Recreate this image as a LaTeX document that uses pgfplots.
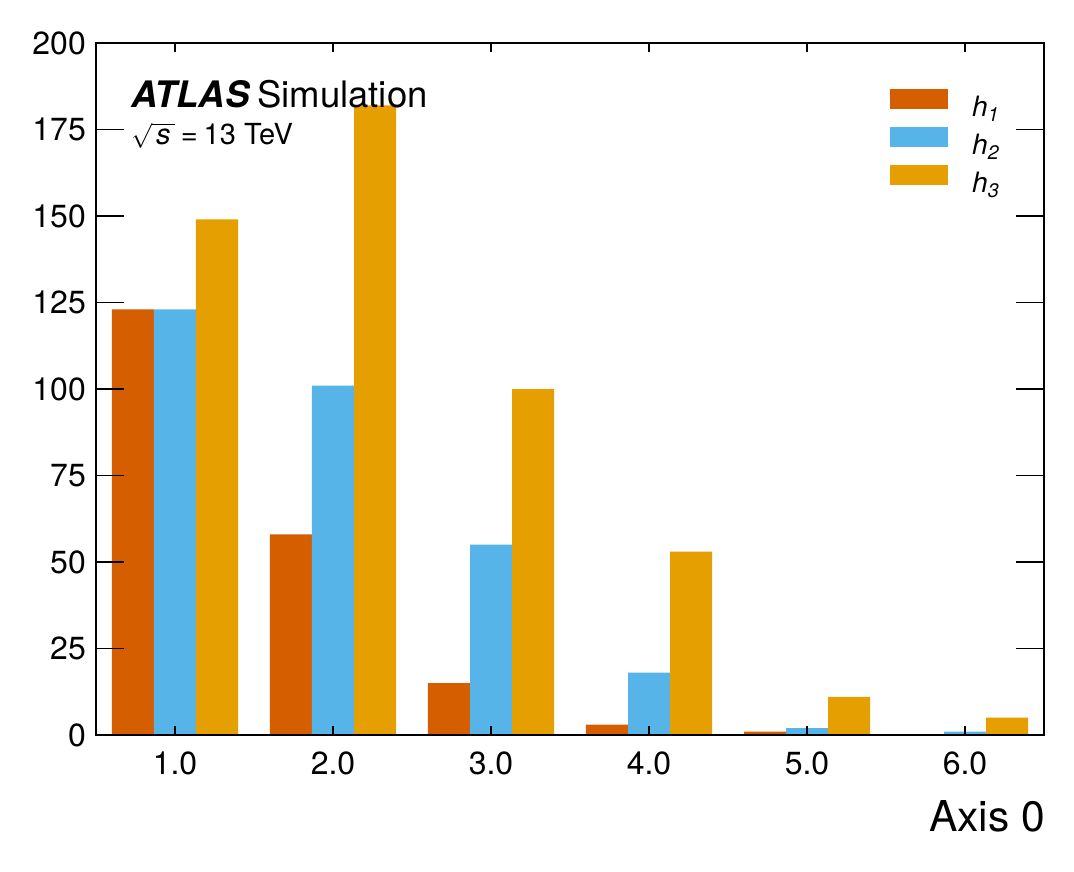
\documentclass[border=0pt]{standalone}
\usepackage{fontspec}
\setmainfont{TeX Gyre Heros}
\usepackage{pgfplots}
\pgfplotsset{compat=1.18}
\definecolor{cA}{HTML}{D55E00}
\definecolor{cB}{HTML}{56B4E9}
\definecolor{cC}{HTML}{E69F00}
\begin{document}
\begin{tikzpicture}
\useasboundingbox (-96pt,-136pt) rectangle (978pt,735pt);
\begin{axis}[
 at={(0pt,0pt)}, anchor=south west,
 scale only axis, width=948pt, height=692pt,
 xmin=0.5, xmax=6.5, ymin=0, ymax=200,
 ybar=0pt, bar width=42pt,
 xtick={1,...,6}, xticklabels={1.0,2.0,3.0,4.0,5.0,6.0},
 ytick={0,25,...,200},
 tick align=inside, tick pos=both,
 axis on top,
 axis line style={line width=2pt},
 x tick style={line width=1.2pt,black,/pgfplots/major tick length=9pt},
 y tick style={line width=1.2pt,black,/pgfplots/major tick length=28pt},
 minor tick num=0,
 tick label style={font=\fontsize{32}{32}\selectfont, inner sep=0pt},
 /pgf/number format/assume math mode=true,
 xticklabel style={yshift=-17pt},
 yticklabel style={xshift=-10pt},
 xlabel={Axis 0},
 xlabel style={font=\fontsize{42.5}{42.5}\selectfont, inner sep=0pt, at={(axis description cs:1,0)}, anchor=north east, yshift=-65pt, xshift=1pt},
 legend style={draw=none, fill=none, inner sep=0pt, at={(axis description cs:0.8376,0.9335)}, anchor=north west, row sep=5pt, column sep=24pt, font=\fontsize{28}{28}\selectfont, nodes={inner sep=0pt, text height=20pt, text depth=6pt}},
 legend cell align=left,
]
\addplot[fill=cA, draw=none, legend image code/.code={\fill[cA] (0pt,0pt) rectangle (58pt,20pt);}] coordinates {(1,123) (2,58) (3,15) (4,3) (5,1) (6,0)};
\addlegendentry{\textit{h}\textsubscript{\textit{1}}}
\addplot[fill=cB, draw=none, legend image code/.code={\fill[cB] (0pt,0pt) rectangle (58pt,20pt);}] coordinates {(1,123) (2,101) (3,55) (4,18) (5,2) (6,1)};
\addlegendentry{\textit{h}\textsubscript{\textit{2}}}
\addplot[fill=cC, draw=none, legend image code/.code={\fill[cC] (0pt,0pt) rectangle (58pt,20pt);}] coordinates {(1,149) (2,182) (3,100) (4,53) (5,11) (6,5)};
\addlegendentry{\textit{h}\textsubscript{\textit{3}}}
\node[anchor=base west, inner sep=0pt, font=\fontsize{36.5}{36.5}\selectfont] at (axis description cs:0.037,0.9075) {\textbf{\textit{ATLAS}}\hspace{7pt}Simulation};
\node[anchor=base west, inner sep=0pt, font=\fontsize{29}{29}\selectfont] at (axis description cs:0.037,0.8526) {$\sqrt{\vphantom{A}\,\textit{s}\,}$\hspace{6pt}=\hspace{6pt}13 TeV};
\end{axis}
\end{tikzpicture}
\end{document}
